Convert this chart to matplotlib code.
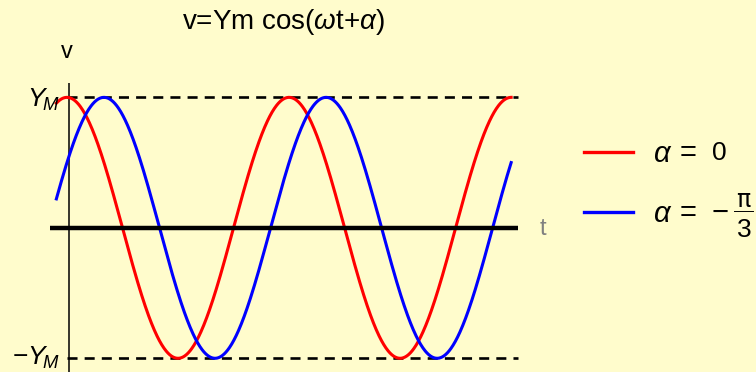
import numpy as np
import matplotlib
matplotlib.use("Agg")
import matplotlib.pyplot as plt
from matplotlib.lines import Line2D

plt.rcParams['font.family'] = ['Liberation Sans', 'DejaVu Sans']
plt.rcParams['mathtext.fontset'] = 'custom'
plt.rcParams['mathtext.rm'] = 'Liberation Sans'
plt.rcParams['mathtext.it'] = 'Liberation Sans:italic'
plt.rcParams['mathtext.cal'] = 'Liberation Sans:italic'

# ---- data ----
amplitude = 1.0            # Ym
omega = 1.0
alphas = [0.0, -np.pi / 3]
series_colors = ["#FF0000", "#0000FF"]
legend_symbol = r"$\alpha$"
legend_values = ["0", ("\u2212", "\u03c0", "3")]   # 0 and  -pi/3
t_start, t_end = -0.3, 4 * np.pi
x_limits = (-0.48, 12.76)
y_limits = (-1.105, 1.11)
ytick_labels = [r"$Y_{\!M}$", r"$-Y_{\!M}$"]
title_text = r"v=Ym cos($\omega$t+$\alpha$)"

bg = "#FFFCCC"
W, H = 756, 372
fig = plt.figure(figsize=(W / 100, H / 100), dpi=100, facecolor=bg)

left, right, top, bottom = 50, 518, 83, 372
ax = fig.add_axes([left / W, 1 - bottom / H, (right - left) / W, (bottom - top) / H])
ax.set_facecolor(bg)
for s in ax.spines.values():
    s.set_visible(False)
ax.set_xticks([])
ax.set_yticks([])
ax.set_xlim(*x_limits)
ax.set_ylim(*y_limits)

t = np.linspace(t_start, t_end, 800)
for a, c in zip(alphas, series_colors):
    ax.plot(t, amplitude * np.cos(omega * t + a), color=c, lw=2.2, zorder=3, clip_on=False)

# dashed amplitude lines
for yv in (amplitude, -amplitude):
    ax.plot([0, x_limits[1]], [yv, yv], color="black", lw=1.9,
            ls=(0, (3.8, 2.7)), zorder=2, clip_on=False)

# axes lines
ax.plot(list(x_limits), [0, 0], color="black", lw=3.2, zorder=4, solid_capstyle="butt")
ax.plot([0.05, 0.05], list(y_limits), color="black", lw=1.1, zorder=1)

# tick labels
ax.text(-0.2, amplitude - 0.02, ytick_labels[0], ha="right", va="center", fontsize=19)
ax.text(-0.2, -amplitude + 0.0, ytick_labels[1], ha="right", va="center", fontsize=19)

# axis labels
ax.text(0.0, 1.345, "v", ha="center", va="center", fontsize=17)
ax.text(13.47, -0.01, "t", ha="center", va="center", fontsize=17, color="#808080")

# title
fig.text(283 / W, 1 - 22 / H, title_text, ha="center", va="center", fontsize=20)


def fx(px):
    return px / W


def fy(py):
    return 1 - py / H


# legend
leg_y = [152, 212]
for yy, c in zip(leg_y, series_colors):
    fig.add_artist(Line2D([fx(584), fx(633)], [fy(yy), fy(yy)],
                          transform=fig.transFigure, color=c, lw=2.4))
for yy in leg_y:
    fig.text(fx(663), fy(yy + 2), legend_symbol, ha="center", va="center", fontsize=21)
    fig.text(fx(688), fy(yy + 1), "=", ha="center", va="center", fontsize=21)
# first value
fig.text(fx(719.5), fy(leg_y[0] + 1), legend_values[0], ha="center", va="center", fontsize=19)
# second value: minus and fraction pi/3
minus, num, den = legend_values[1]
fig.text(fx(720), fy(leg_y[1] + 1), minus, ha="center", va="center", fontsize=21)
fig.text(fx(743.5), fy(200), num, ha="center", va="center", fontsize=17,
         family="DejaVu Sans")
fig.add_artist(Line2D([fx(734), fx(753)], [fy(211), fy(211)],
                      transform=fig.transFigure, color="black", lw=0.7))
fig.text(fx(744), fy(230), den, ha="center", va="center", fontsize=19)

fig.savefig("out.png", dpi=100, facecolor=bg)
